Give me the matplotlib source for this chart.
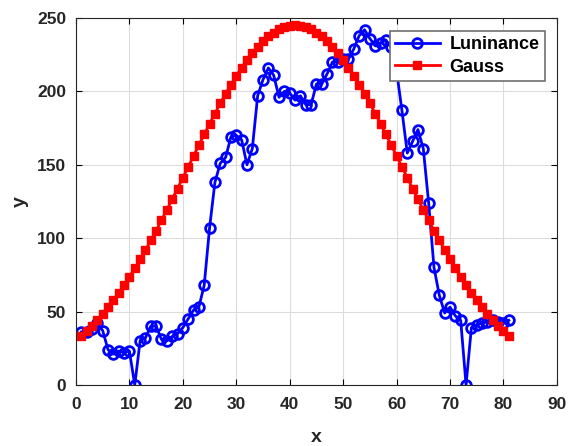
import numpy as np
import matplotlib
matplotlib.use("Agg")
import matplotlib.pyplot as plt

plt.rcParams['font.family'] = ['Liberation Sans', 'DejaVu Sans']

# positions 1..81
x = np.arange(1, 82)

# luminance (x=59,60 are behind the legend)
luminance = [36, 36, 38, 42, 37, 24, 21, 23, 22, 23,
             0, 30, 32, 40, 40, 31, 30, 33, 35, 39,
             45, 51, 53, 68, 107, 138, 151, 155, 169, 170,
             167, 150, 161, 197, 208, 216, 211, 196, 200, 199,
             194, 197, 191, 191, 205, 205, 212, 220, 220, 222,
             222, 229, 238, 242, 236, 231, 233, 235, 230, 214,
             187, 158, 166, 174, 161, 124, 80, 61, 49, 53,
             47, 44, 0, 39, 41, 42, 43, 44, 43, 42,
             44]

# gauss fit (symmetrical around x=41)
gauss_half = [245.0, 244.7, 243.8, 242.3, 240.1, 237.5, 234.2, 230.4, 226.2, 221.4,
              216.2, 210.6, 204.6, 198.4, 191.8, 184.9, 177.9, 170.7, 163.4, 156.0,
              148.6, 141.2, 133.8, 126.5, 119.3, 112.2, 105.2, 98.5, 91.9, 85.6,
              79.5, 73.7, 68.1, 62.8, 57.7, 53.0, 48.5, 44.3, 40.3, 36.6,
              33.2]
gauss = gauss_half[::-1] + gauss_half[1:]

fig = plt.figure(figsize=(5.7, 4.46), dpi=100)
ax = fig.add_axes([0.1333, 0.137, 0.8437, 0.8226])

ax.plot(x, luminance, '-o', color='blue', linewidth=2, markersize=7,
        markerfacecolor='none', markeredgewidth=2, label='Luninance')
ax.plot(x, gauss, '-s', color='red', linewidth=2, markersize=6.3,
        markerfacecolor='red', markeredgecolor='red', label='Gauss')

ax.set_xlim(0, 90)
ax.set_ylim(0, 250)
ax.set_xticks(range(0, 91, 10))
ax.set_yticks(range(0, 251, 50))
ax.grid(True, color='#dcdcdc', linewidth=0.8)
ax.set_axisbelow(True)
ax.tick_params(direction='in', top=True, right=True, labelsize=12.5, length=4)
ax.tick_params(axis='x', pad=9)
ax.tick_params(axis='y', pad=7)
for lab in ax.get_xticklabels() + ax.get_yticklabels():
    lab.set_fontweight('bold')
    lab.set_color('#262626')
for s in ax.spines.values():
    s.set_color('#262626')

ax.set_xlabel('x', fontsize=14, fontweight='bold', color='#262626', labelpad=12)
ax.set_ylabel('y', fontsize=14, fontweight='bold', color='#262626', labelpad=6)

leg = ax.legend(loc='upper right', prop={'weight': 'bold', 'size': 13},
                fancybox=False, framealpha=1, edgecolor='#707070',
                borderpad=0.3, labelspacing=0.3, handlelength=2.45,
                handletextpad=0.55, borderaxespad=0,
                bbox_to_anchor=(0.975, 0.965))
leg.get_frame().set_linewidth(1.2)

fig.savefig('out.png', dpi=100)
